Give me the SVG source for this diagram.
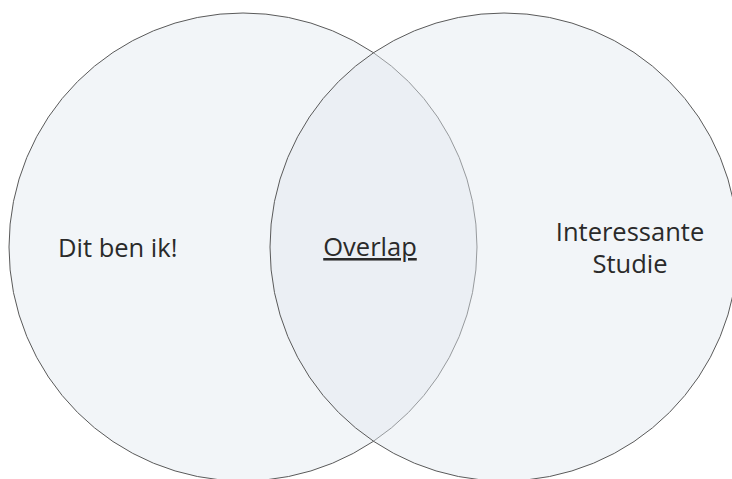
<svg xmlns="http://www.w3.org/2000/svg" width="732" height="479" viewBox="0 0 732 479">
<style>
.c{fill:#e3e9f0;fill-opacity:0.45;stroke:#5a5a5a;stroke-width:1}
.t{font-family:"Open Sans","Noto Sans","DejaVu Sans",sans-serif;font-size:25.5px;fill:#2a2a2a}
</style>
<rect width="732" height="479" fill="#ffffff"/>
<g id="node-me"><circle class="c" cx="243" cy="247" r="234"/></g>
<g id="node-study"><circle class="c" cx="504" cy="247" r="234"/></g>
<g id="label-me"><text class="t" x="58" y="257">Dit ben ik!</text></g>
<g id="label-overlap"><text class="t" x="370" y="256" text-anchor="middle" text-decoration="underline">Overlap</text></g>
<g id="label-study"><text class="t" x="630" y="241" text-anchor="middle">Interessante</text><text class="t" x="630" y="273" text-anchor="middle">Studie</text></g>
<g id="connectors"/>
</svg>
